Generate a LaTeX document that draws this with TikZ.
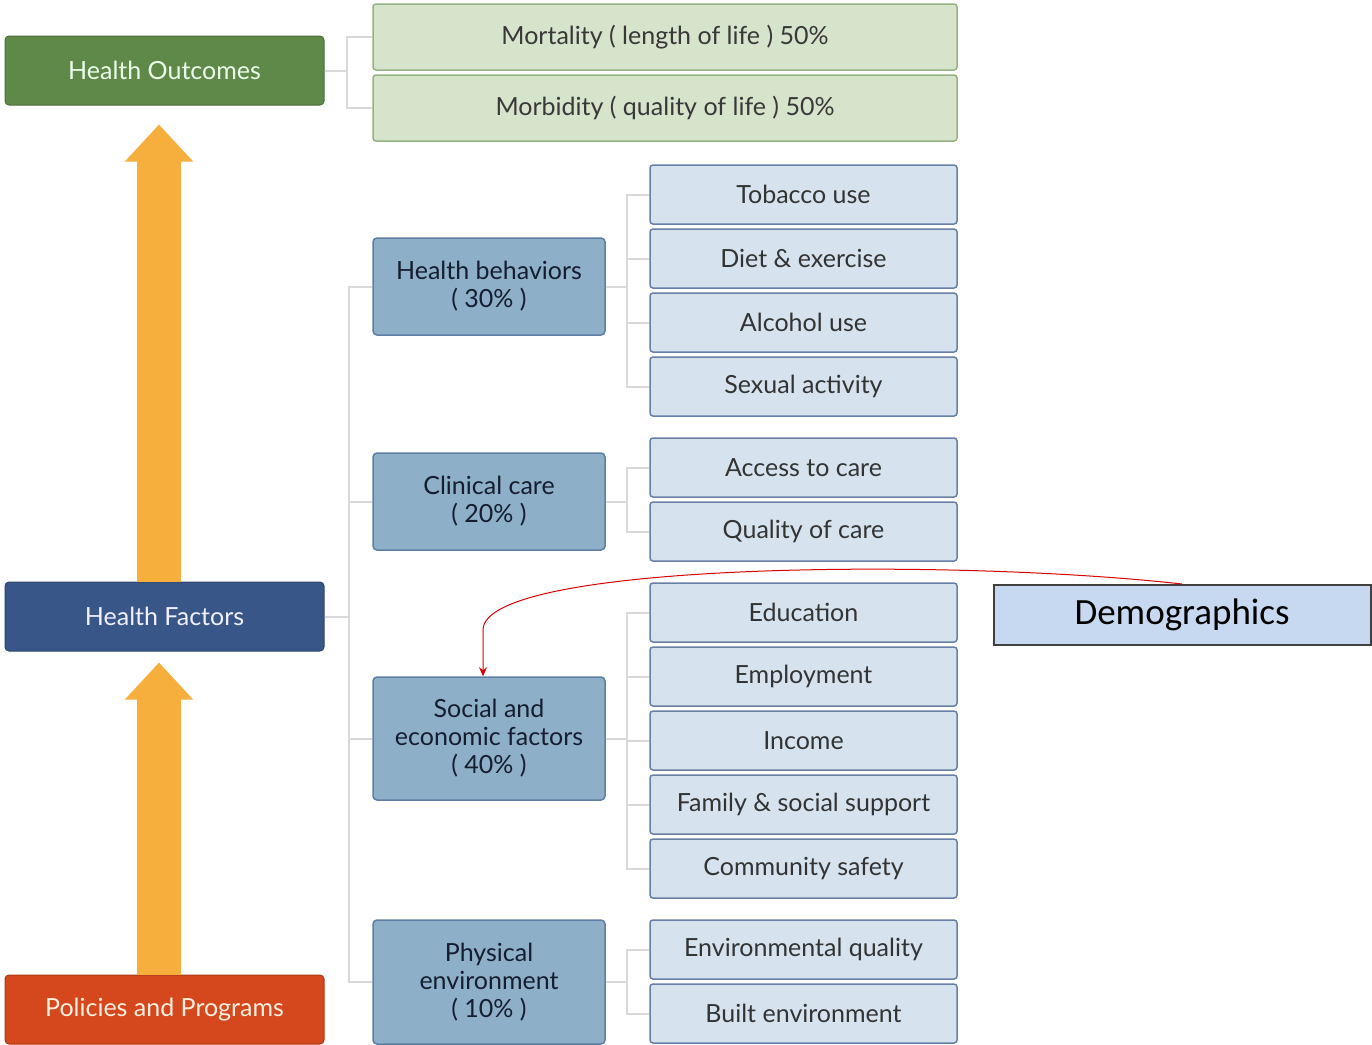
\documentclass[tikz,border=0pt]{standalone}
\usepackage{fontspec}
\setmainfont{Lato}
\newfontfamily\demofont{Carlito}
\usetikzlibrary{positioning,arrows.meta}

\definecolor{outgreen}{HTML}{5F8948}
\definecolor{factblue}{HTML}{395688}
\definecolor{polred}{HTML}{D5471C}
\definecolor{arroworange}{HTML}{F6AE3D}
\definecolor{lightgreen}{HTML}{D7E4CC}
\definecolor{catblue}{HTML}{8EAFC8}
\definecolor{itemblue}{HTML}{D6E3EE}
\definecolor{linkgray}{HTML}{D9D9D9}
\definecolor{demoblue}{HTML}{C6D9F1}

\tikzset{
  mainbox/.style={rectangle, rounded corners=4pt, minimum width=319pt, minimum height=69pt, line width=1pt},
  resultbox/.style={rectangle, rounded corners=3pt, minimum width=584pt, minimum height=66pt, fill=lightgreen, draw=lightgreen!45!outgreen, line width=1.5pt, text=black!78},
  catbox/.style={rectangle, rounded corners=4pt, minimum width=232pt, minimum height=97pt, align=center, fill=catblue, draw=catblue!45!factblue, line width=1.5pt, text=black!65!factblue},
  itembox/.style={rectangle, rounded corners=3pt, minimum width=307pt, minimum height=59pt, fill=itemblue, draw=itemblue!30!factblue, line width=1.5pt, text=black!80},
  link/.style={draw=linkgray, line width=2pt},
  fatarrow/.style={draw=arroworange, line width=44pt, -{Triangle[width=66pt,length=37pt]}}
}

\begin{document}
\begin{tikzpicture}[x=1pt, y=-1pt, node distance=3.5pt, font=\fontsize{25}{28}\selectfont]
    \useasboundingbox (0,0) rectangle (1372,1044);

    % Left column
    \node (HealthOutcomes) [mainbox, fill=outgreen, draw=outgreen!80!black, text=green!8!white] at (164.5,70.5) {Health Outcomes};
    \node (HealthFactors) [mainbox, fill=factblue, draw=factblue!80!black, text=blue!6!white] at (164.5,616.5) {Health Factors};
    \node (Policies) [mainbox, fill=polred, draw=polred!80!black, text=orange!12!white] at (164.5,1009.5) {Policies and Programs};

    % Outcomes
    \node (Mortality) [resultbox] at (665,37) {Mortality ( length of life ) 50\%};
    \node (Morbidity) [resultbox, below=of Mortality] {Morbidity ( quality of life ) 50\%};

    % Factor groups
    \node (Behaviors) [catbox] at (489,286.5) {Health behaviors\\( 30\% )};
    \node (Clinical) [catbox] at (489,501.5) {Clinical care\\( 20\% )};
    \node (Social) [catbox, minimum height=123pt] at (489,738.5) {Social and\\economic factors\\( 40\% )};
    \node (Physical) [catbox, minimum height=124pt] at (489,982) {Physical\\environment\\( 10\% )};

    % Health behaviors items
    \node (Tobacco) [itembox] at (803.5,194.5) {Tobacco use};
    \node (Diet) [itembox, below=of Tobacco] {Diet \& exercise};
    \node (Alcohol) [itembox, below=of Diet] {Alcohol use};
    \node (Sexual) [itembox, below=of Alcohol] {Sexual activity};

    % Clinical care items
    \node (Access) [itembox] at (803.5,467.5) {Access to care};
    \node (Quality) [itembox, below=of Access] {Quality of care};

    % Social and economic items
    \node (Education) [itembox] at (803.5,612.5) {Education};
    \node (Employment) [itembox, below=of Education] {Employment};
    \node (Income) [itembox, below=of Employment] {Income};
    \node (Family) [itembox, below=of Income] {Family \& social support};
    \node (Safety) [itembox, below=of Family] {Community safety};

    % Physical environment items
    \node (Environmental) [itembox] at (803.5,949.5) {Environmental quality};
    \node (Built) [itembox, below=of Environmental] {Built environment};

    % Demographics
    \node (Demographics) [rectangle, minimum width=377pt, minimum height=60pt, fill=demoblue, draw=black!75, line width=2pt, font=\demofont\fontsize{37}{40}\selectfont] at (1182,615) {Demographics};

    % Tree links
    \draw[link] (HealthOutcomes.east) -- ++(22,0) |- (Mortality.west);
    \draw[link] (HealthOutcomes.east) ++(22,0) |- (Morbidity.west);

    \draw[link] (HealthFactors.east) -- ++(24,0) |- (Behaviors.west);
    \draw[link] (HealthFactors.east) ++(24,0) |- (Clinical.west);
    \draw[link] (HealthFactors.east) ++(24,0) |- (Social.west);
    \draw[link] (HealthFactors.east) ++(24,0) |- (Physical.west);

    \draw[link] (Behaviors.east) -- ++(21,0) |- (Tobacco.west);
    \draw[link] (Behaviors.east) ++(21,0) |- (Diet.west);
    \draw[link] (Behaviors.east) ++(21,0) |- (Alcohol.west);
    \draw[link] (Behaviors.east) ++(21,0) |- (Sexual.west);

    \draw[link] (Clinical.east) -- ++(21,0) |- (Access.west);
    \draw[link] (Clinical.east) ++(21,0) |- (Quality.west);

    \draw[link] (Social.east) -- ++(21,0) |- (Education.west);
    \draw[link] (Social.east) ++(21,0) |- (Employment.west);
    \draw[link] (Social.east) ++(21,0) |- (Income.west);
    \draw[link] (Social.east) ++(21,0) |- (Family.west);
    \draw[link] (Social.east) ++(21,0) |- (Safety.west);

    \draw[link] (Physical.east) -- ++(21,0) |- (Environmental.west);
    \draw[link] (Physical.east) ++(21,0) |- (Built.west);

    % Big arrows
    \draw[fatarrow, shorten >=19pt] ([xshift=-5.5pt]HealthFactors.north) -- ([xshift=-5.5pt]HealthOutcomes.south);
    \draw[fatarrow, shorten >=11pt] ([xshift=-5.5pt]Policies.north) -- ([xshift=-5.5pt]HealthFactors.south);

    % Demographics arrow
    \draw[red!85!black, line width=1pt, -{Stealth[length=9pt,width=8pt]}] (Demographics.north) .. controls (950,558) and (483,562) .. (483,630) -- ([xshift=-6pt]Social.north);

\end{tikzpicture}
\end{document}
